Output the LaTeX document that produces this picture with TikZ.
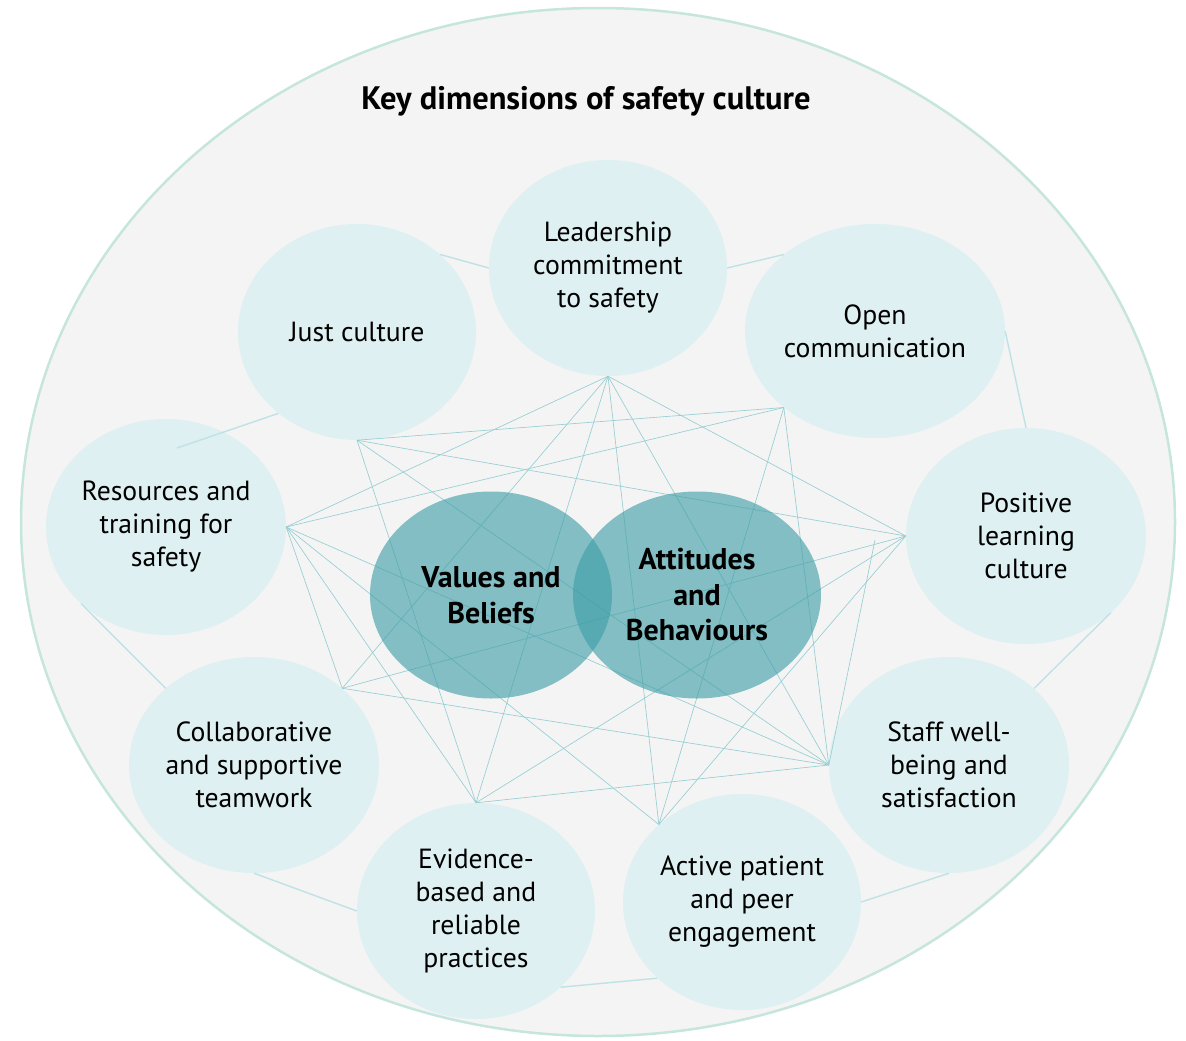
\documentclass[tikz,border=0pt]{standalone}
\usepackage{fontspec}
\setmainfont{PT Sans}
\usetikzlibrary{shapes.geometric}

\definecolor{outerline}{HTML}{C6E6DD}
\definecolor{outerfill}{HTML}{F4F4F4}
\definecolor{dimfill}{HTML}{DFF0F2}
\definecolor{corefill}{HTML}{3D9EA6}
\definecolor{webline}{HTML}{96CED3}
\definecolor{linkline}{HTML}{BEE2E5}

\tikzset{
  dim/.style={ellipse, fill=dimfill, inner sep=0pt, align=center,
    minimum width=238pt, minimum height=216pt,
    font=\fontsize{27.7}{33}\selectfont},
  core/.style={ellipse, fill=corefill, fill opacity=0.62, text opacity=1,
    inner sep=0pt, align=center, minimum height=207pt,
    font=\bfseries\fontsize{30}{35.5}\selectfont},
  web/.style={draw=webline, line width=0.65pt},
  link/.style={draw=linkline, line width=1.4pt}
}

\begin{document}
\begin{tikzpicture}[x=1pt,y=-1pt]
  \useasboundingbox (0,0) rectangle (1186,1041);
  \draw[outerline, line width=2.5pt, fill=outerfill] (598,522) ellipse [x radius=577, y radius=514];

  \node[font=\bfseries\fontsize{32.5}{38}\selectfont] (title) at (586,101) {Key dimensions of safety culture};

  % outer dimensions
  \node[dim] (lead) at (608,268) {Leadership\\commitment\\to safety};
  \node[dim] (just) at (357,332) {Just culture};
  \node[dim, minimum width=260pt, minimum height=214pt] (open) at (875,331) {Open\\communication};
  \node[dim, minimum width=240pt] (pos) at (1026,536) {Positive\\learning\\culture};
  \node[dim, minimum width=240pt] (staff) at (949,765) {Staff well-\\being and\\satisfaction};
  \node[dim] (act) at (742,902) {Active patient\\and peer\\engagement};
  \node[dim] (evid) at (476,911) {Evidence-\\based and\\reliable\\practices};
  \node[dim, minimum width=250pt] (coll) at (254,765) {Collaborative\\and supportive\\teamwork};
  \node[dim, minimum width=240pt] (res) at (166,527) {Resources and\\training for\\safety};

  \coordinate (hlead) at (lead.south);
  \coordinate (hjust) at (just.south);
  \coordinate (hopen) at (open.220);
  \coordinate (hres) at (res.east);
  \coordinate (hpos) at (pos.west);
  \coordinate (hcoll) at (coll.41);
  \coordinate (hstaff) at (staff.west);
  \coordinate (hevid) at (evid.north);
  \coordinate (hact) at (act.137);
  \coordinate (hloose) at (875,540);
  \coordinate (hresin) at (177,448);

  % web of links
  \foreach \a/\b in {hlead/hres, hlead/hcoll, hlead/hevid, hlead/hact, hlead/hstaff, hlead/hpos,
      hjust/hopen, hjust/hpos, hjust/hstaff, hjust/hevid,
      hopen/hres, hopen/hact, hopen/hstaff,
      hres/hcoll, hres/hevid, hres/hact, hres/hstaff,
      hpos/hcoll, hpos/hevid, hpos/hact,
      hcoll/hstaff, hstaff/hevid, hstaff/hloose}
    \draw[web] (\a) -- (\b);

  % ring links
  \draw[link] (just.43) -- (lead.west);
  \draw[link] (lead.east) -- (open.140);
  \draw[link] (open.east) -- (pos.north);
  \draw[link] (pos.-42) -- (staff.42);
  \draw[link] (staff.south) -- (act.east);
  \draw[link] (act.222) -- (evid.-42);
  \draw[link] (evid.west) -- (coll.south);
  \draw[link] (coll.139) -- (res.222);
  \draw[link] (hresin) -- (just.226);

  % core
  \node[core, minimum width=242pt] (values) at (491,595) {Values and\\Beliefs};
  \node[core, minimum width=248pt] (attitudes) at (697,595) {Attitudes\\and\\Behaviours};
\end{tikzpicture}
\end{document}
